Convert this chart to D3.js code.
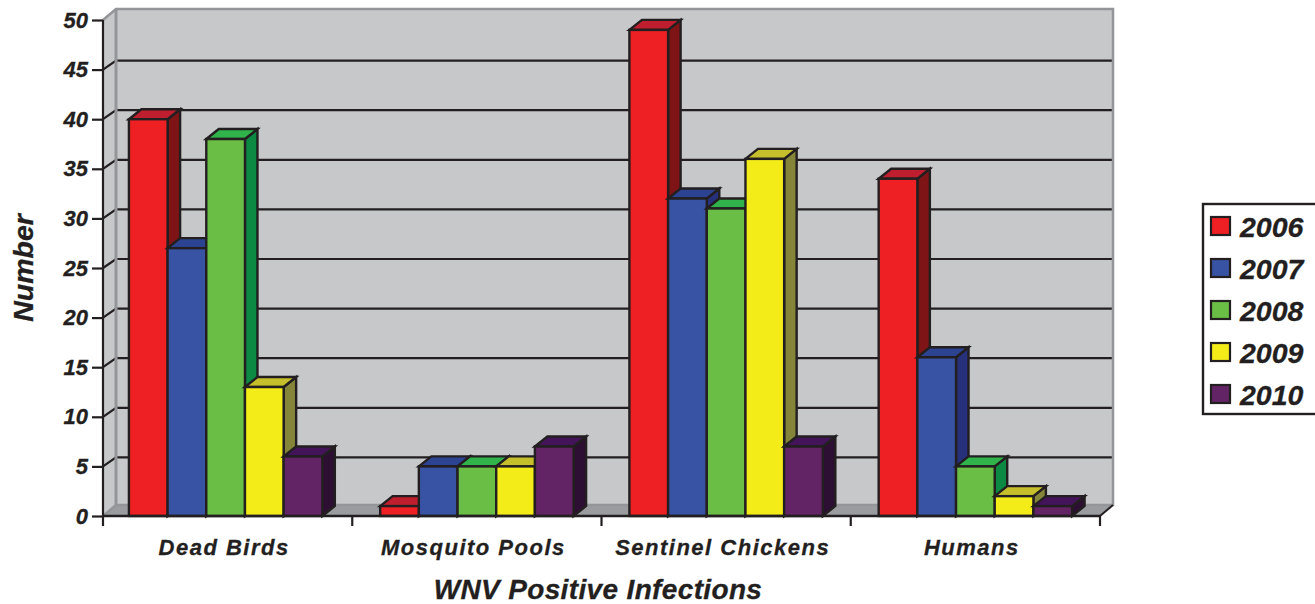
<!DOCTYPE html>
<html>
<head>
<meta charset="utf-8">
<script src="https://cdn.jsdelivr.net/npm/d3@7"></script>
<style>
  html, body { margin: 0; padding: 0; background: #fff; overflow: hidden; }
  text { font-family: "Liberation Sans", Arial, sans-serif; font-weight: bold; font-style: italic; fill: #231f20; stroke: #231f20; stroke-width: 0.3; }
</style>
</head>
<body>
<div class="chart"></div>
<script>
const categories = ['Dead Birds', 'Mosquito Pools', 'Sentinel Chickens', 'Humans'];
const years = ['2006', '2007', '2008', '2009', '2010'];
const values2006 = [40, 1, 49, 34];
const values2007 = [27, 5, 32, 16];
const values2008 = [38, 5, 31, 5];
const values2009 = [13, 5, 36, 2];
const values2010 = [6, 7, 7, 1];
const yTicks = [0, 5, 10, 15, 20, 25, 30, 35, 40, 45, 50];

const seriesValues = [values2006, values2007, values2008, values2009, values2010];
const frontColors = ['#ee2024', '#3953a4', '#6abd45', '#f4ec19', '#632466'];
const topColors = ['#be1e2d', '#2b4391', '#2fb34a', '#c4bf2a', '#44145a'];
const sideColors = ['#7f1416', '#27307a', '#0c8a44', '#85853a', '#2d0f33'];
const ink = '#231f20';

const width = 1315;
const height = 604;
const depthX = 13;
const depthY = -11;
const gridDepthY = -9;
const barDepthX = 12.5;
const barDepthY = -10;

const svg = d3.select('.chart').append('svg')
    .attr('width', width)
    .attr('height', height)
    .attr('viewBox', [0, 0, width, height])
    .style('display', 'block');

const x = d3.scaleBand()
    .domain(categories)
    .range([103, 1100])
    .paddingInner(0.224)
    .paddingOuter(0.112);

const xYear = d3.scaleBand()
    .domain(years)
    .range([0, x.bandwidth()]);

const y = d3.scaleLinear()
    .domain([0, 50])
    .range([516, 20]);

const poly = pts => pts.map(p => p.join(',')).join(' ');

// walls and floor
const left = x.range()[0];
const right = x.range()[1];

svg.append('polygon')
    .attr('points', poly([[left, y(0)], [left, y(50)], [left + depthX, y(50) + depthY], [right + depthX, y(50) + depthY], [right + depthX, y(0) + depthY], [left + depthX, y(0) + depthY]]))
    .attr('fill', '#c7c8ca');

svg.append('polygon')
    .attr('points', poly([[left, y(0)], [left + depthX, y(0) + depthY], [right + depthX, y(0) + depthY], [right, y(0)]]))
    .attr('fill', '#9a9c9f');

// gridlines on back wall, with the diagonal on the side wall
svg.append('g').selectAll('path')
    .data(yTicks.filter(d => d > 0 && d < 50))
    .enter()
    .append('path')
    .attr('d', d => `M${left},${y(d)} L${left + depthX},${y(d) + gridDepthY} L${right + depthX},${y(d) + gridDepthY}`)
    .attr('fill', 'none')
    .attr('stroke', ink)
    .attr('stroke-width', 2.2);

svg.append('path')
    .attr('d', `M${left},${y(50)} L${left + depthX},${y(50) + depthY} L${right + depthX},${y(50) + depthY} L${right + depthX},${y(0) + depthY} L${left + depthX},${y(0) + depthY} L${left},${y(0)}`)
    .attr('fill', 'none')
    .attr('stroke', '#939598')
    .attr('stroke-width', 2.5);

svg.append('line')
    .attr('x1', left + depthX).attr('x2', left + depthX)
    .attr('y1', y(50) + depthY).attr('y2', y(0) + depthY)
    .attr('stroke', '#939598')
    .attr('stroke-width', 3);

svg.append('path')
    .attr('d', `M${right},${y(0)} L${right + depthX},${y(0) + depthY}`)
    .attr('stroke', ink)
    .attr('stroke-width', 2);

// bars, left to right so each one covers the side of the one before
const barData = [];
categories.forEach((c, i) => {
    years.forEach((yr, j) => {
        barData.push({ category: c, year: yr, series: j, value: seriesValues[j][i] });
    });
});

const bars = svg.append('g').selectAll('g')
    .data(barData)
    .enter()
    .append('g')
    .attr('stroke', ink)
    .attr('stroke-width', 2.4)
    .attr('stroke-linejoin', 'miter');

// first group sits a little left of the even spacing in the original
const x0 = d => x(d.category) + xYear(d.year) - (d.category === categories[0] ? 2 : 0);
const x1 = d => x0(d) + xYear.bandwidth();

bars.append('polygon')
    .attr('points', d => poly([[x1(d), y(d.value)], [x1(d) + barDepthX, y(d.value) + barDepthY], [x1(d) + barDepthX, y(0) + barDepthY], [x1(d), y(0)]]))
    .attr('fill', d => sideColors[d.series]);

bars.append('polygon')
    .attr('points', d => poly([[x0(d), y(d.value)], [x0(d) + barDepthX, y(d.value) + barDepthY], [x1(d) + barDepthX, y(d.value) + barDepthY], [x1(d), y(d.value)]]))
    .attr('fill', d => topColors[d.series]);

bars.append('rect')
    .attr('x', x0)
    .attr('y', d => y(d.value))
    .attr('width', xYear.bandwidth())
    .attr('height', d => y(0) - y(d.value))
    .attr('fill', d => frontColors[d.series]);

// axes
const yAxis = svg.append('g')
    .attr('transform', `translate(${left},0)`)
    .call(d3.axisLeft(y).tickValues(yTicks).tickSize(11).tickPadding(4));

yAxis.selectAll('path, line').attr('stroke', ink).attr('stroke-width', 2.2);
yAxis.select('.domain').attr('d', `M0,${y(50)} V${y(0)}`);
yAxis.selectAll('text')
    .attr('font-size', 22)
    .style('font-family', '"Liberation Sans", Arial, sans-serif')
    .attr('fill', ink);

const xAxis = svg.append('g')
    .attr('transform', `translate(0,${y(0)})`)
    .call(d3.axisBottom(x).tickSize(0).tickPadding(23));

xAxis.select('.domain').attr('d', `M${left},0 H${right}`).attr('stroke', ink).attr('stroke-width', 2.6);
xAxis.selectAll('text')
    .attr('font-size', 22)
    .attr('letter-spacing', 1.5)
    .attr('dx', -3.5)
    .style('font-family', '"Liberation Sans", Arial, sans-serif')
    .attr('fill', ink);

// category dividers below the axis
const step = x.step();
svg.append('g').selectAll('line')
    .data(d3.range(categories.length + 1))
    .enter()
    .append('line')
    .attr('x1', i => left + i * step)
    .attr('x2', i => left + i * step)
    .attr('y1', y(0))
    .attr('y2', y(0) + 10)
    .attr('stroke', ink)
    .attr('stroke-width', 2.2);

// axis titles
svg.append('text')
    .attr('x', 598)
    .attr('y', 599)
    .attr('text-anchor', 'middle')
    .attr('font-size', 28)
    .attr('letter-spacing', 0.35)
    .text('WNV Positive Infections');

svg.append('text')
    .attr('transform', 'translate(33,268) rotate(-90)')
    .attr('text-anchor', 'middle')
    .attr('font-size', 28.5)
    .text('Number');

// legend
const legend = svg.append('g');

legend.append('rect')
    .attr('x', 1203)
    .attr('y', 204)
    .attr('width', 130)
    .attr('height', 210)
    .attr('fill', '#fff')
    .attr('stroke', ink)
    .attr('stroke-width', 2.4);

const legendY = d3.scalePoint()
    .domain(years)
    .range([226, 394]);

const legendRows = legend.selectAll('g.row')
    .data(years)
    .enter()
    .append('g')
    .attr('class', 'row')
    .attr('transform', d => `translate(0,${legendY(d)})`);

legendRows.append('rect')
    .attr('x', 1211)
    .attr('y', -9)
    .attr('width', 19)
    .attr('height', 18)
    .attr('fill', (d, i) => frontColors[i])
    .attr('stroke', ink)
    .attr('stroke-width', 2.2);

legendRows.append('text')
    .attr('x', 1240)
    .attr('y', 11)
    .attr('font-size', 28.5)
    .text(d => d);
</script>
</body>
</html>
